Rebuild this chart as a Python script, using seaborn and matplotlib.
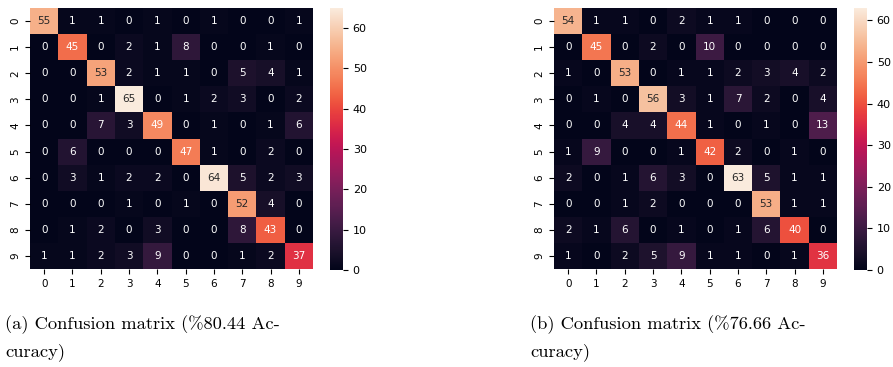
import numpy as np
import matplotlib
matplotlib.use("Agg")
import matplotlib.pyplot as plt
import seaborn as sns

# ---------------- Data ----------------
labels = [str(i) for i in range(10)]

cm_a = [
    [55, 1, 1, 0, 1, 0, 1, 0, 0, 1],
    [0, 45, 0, 2, 1, 8, 0, 0, 1, 0],
    [0, 0, 53, 2, 1, 1, 0, 5, 4, 1],
    [0, 0, 1, 65, 0, 1, 2, 3, 0, 2],
    [0, 0, 7, 3, 49, 0, 1, 0, 1, 6],
    [0, 6, 0, 0, 0, 47, 1, 0, 2, 0],
    [0, 3, 1, 2, 2, 0, 64, 5, 2, 3],
    [0, 0, 0, 1, 0, 1, 0, 52, 4, 0],
    [0, 1, 2, 0, 3, 0, 0, 8, 43, 0],
    [1, 1, 2, 3, 9, 0, 0, 1, 2, 37],
]

cm_b = [
    [54, 1, 1, 0, 2, 1, 1, 0, 0, 0],
    [0, 45, 0, 2, 0, 10, 0, 0, 0, 0],
    [1, 0, 53, 0, 1, 1, 2, 3, 4, 2],
    [0, 1, 0, 56, 3, 1, 7, 2, 0, 4],
    [0, 0, 4, 4, 44, 1, 0, 1, 0, 13],
    [1, 9, 0, 0, 1, 42, 2, 0, 1, 0],
    [2, 0, 1, 6, 3, 0, 63, 5, 1, 1],
    [0, 0, 1, 2, 0, 0, 0, 53, 1, 1],
    [2, 1, 6, 0, 1, 0, 1, 6, 40, 0],
    [1, 0, 2, 5, 9, 1, 1, 0, 1, 36],
]

captions = [
    ("(a) Confusion matrix (%80.44 Ac-", "curacy)"),
    ("(b) Confusion matrix (%76.66 Ac-", "curacy)"),
]

# ---------------- Plot ----------------
W, H = 893, 367
fig = plt.figure(figsize=(W / 100, H / 100), dpi=100)

def box(x0, y0, x1, y1):
    return [x0 / W, 1 - y1 / H, (x1 - x0) / W, (y1 - y0) / H]

layout = [
    (box(30, 8, 313, 269), box(330, 8, 343, 270), 5),
    (box(554, 8, 837, 269), box(854, 8, 867, 270), 530),
]

for (cm, cap, (ax_box, cb_box, tx)) in zip([cm_a, cm_b], captions, layout):
    ax = fig.add_axes(ax_box)
    cax = fig.add_axes(cb_box)
    sns.heatmap(np.array(cm), annot=True, fmt="d", ax=ax, cbar_ax=cax,
                xticklabels=labels, yticklabels=labels,
                annot_kws={"fontsize": 7.5})
    ax.tick_params(labelsize=7.5)
    ax.set_yticklabels(labels, rotation=90, va="center")
    ax.set_xticklabels(labels, rotation=0)
    cax.tick_params(labelsize=8)
    cax.set_yticks([0, 10, 20, 30, 40, 50, 60])

    fig.text(tx / W, 1 - 325 / H, cap[0], family="cmr10", fontsize=13.3,
             va="center", ha="left")
    fig.text(tx / W, 1 - 352 / H, cap[1], family="cmr10", fontsize=13.3,
             va="center", ha="left")

fig.savefig("out.png", dpi=100)
